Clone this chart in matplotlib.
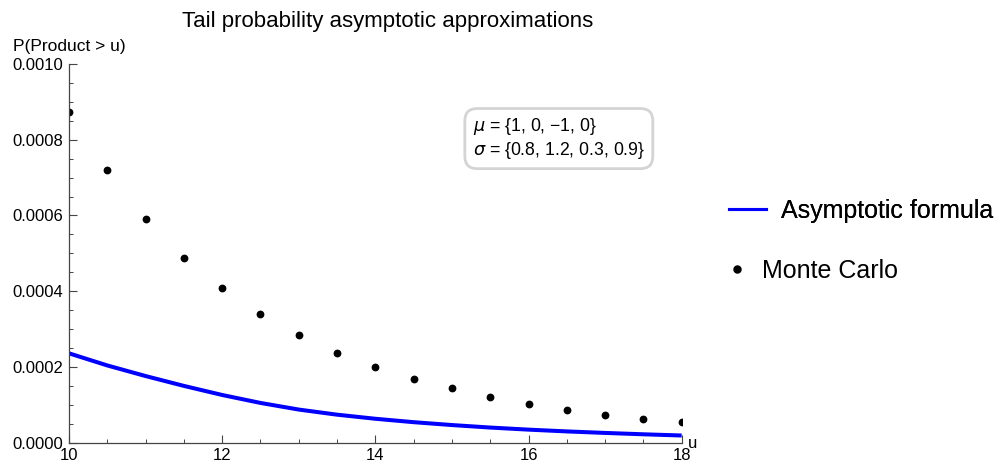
import matplotlib
matplotlib.use("Agg")
import matplotlib.pyplot as plt
from matplotlib.lines import Line2D
from matplotlib.ticker import MultipleLocator, FormatStrFormatter

plt.rcParams['font.family'] = ['Liberation Sans', 'DejaVu Sans']

# Monte Carlo estimates
mc_u = [10, 10.5, 11, 11.5, 12, 12.5, 13, 13.5, 14, 14.5, 15, 15.5, 16, 16.5, 17, 17.5, 18]
mc_p = [0.000872, 0.000719, 0.000591, 0.000487, 0.000408, 0.000340, 0.000285, 0.000238,
        0.000200, 0.000169, 0.000144, 0.000120, 0.000101, 0.0000872, 0.0000740,
        0.0000634, 0.0000555]

# asymptotic formula curve
asy_u = [10, 10.5, 11, 11.5, 12, 12.5, 13, 13.5, 14, 14.5, 15, 15.5, 16, 16.5, 17, 17.5, 18]
asy_p = [0.000236, 0.000204, 0.000176, 0.000150, 0.000126, 0.000105, 0.0000875, 0.0000740,
         0.0000632, 0.0000542, 0.0000466, 0.0000400, 0.0000345, 0.0000298, 0.0000258,
         0.0000222, 0.0000190]

fig = plt.figure(figsize=(9.95, 4.65), dpi=100)
ax = fig.add_axes([69 / 995, 22.3 / 465, 612.7 / 995, 378.7 / 465])

ax.plot(asy_u, asy_p, color='#0000ff', lw=2.9, solid_capstyle='butt')
dots, = ax.plot(mc_u, mc_p, 'o', color='black', ms=4.6, ls='none')

ax.set_xlim(10, 18)
ax.set_ylim(0, 0.001)
ax.xaxis.set_major_locator(MultipleLocator(2))
ax.xaxis.set_minor_locator(MultipleLocator(0.5))
ax.yaxis.set_major_locator(MultipleLocator(0.0002))
ax.yaxis.set_minor_locator(MultipleLocator(0.00005))
ax.yaxis.set_major_formatter(FormatStrFormatter('%.4f'))

for s in ['top', 'right']:
    ax.spines[s].set_visible(False)
for s in ['left', 'bottom']:
    ax.spines[s].set_color('#444444')
    ax.spines[s].set_linewidth(0.9)

ax.tick_params(which='major', direction='in', length=5.5, width=0.8, color='#444444',
               labelsize=12, pad=4)
ax.tick_params(which='minor', direction='in', length=2.9, width=0.7, color='#444444')

fig.text(388 / 995, 1 - 21 / 465, 'Tail probability asymptotic approximations',
         fontsize=16, va='center', ha='center')
fig.text(13 / 995, 1 - 46 / 465, 'P(Product > u)', fontsize=12.5, va='center', ha='left')
fig.text(688 / 995, 1 - 443 / 465, 'u', fontsize=12, va='center', ha='left')

ax.text(0.659, 0.803,
        '$\\mu$ = {1, 0, \u22121, 0}\n$\\sigma$ = {0.8, 1.2, 0.3, 0.9}',
        transform=ax.transAxes, fontsize=12.7, va='center', ha='left', linespacing=1.15,
        bbox=dict(boxstyle='round,pad=0.45,rounding_size=0.7', fc='white',
                  ec='#d4d4d4', lw=2))

# legend swatch is thinner than the plotted curve
line_handle = Line2D([], [], color='#0000ff', lw=2.2)
leg1 = fig.legend([line_handle], ['Asymptotic formula'], loc='center left',
                  bbox_to_anchor=(707 / 995, 1 - 211 / 465), frameon=False,
                  fontsize=18, handlelength=1.45, handletextpad=0.6)
fig.add_artist(leg1)
fig.legend([dots], ['Monte Carlo'], loc='center left',
           bbox_to_anchor=(705 / 995, 1 - 271 / 465), frameon=False,
           fontsize=18, handlelength=0.8, handletextpad=0.6, markerscale=1.1)

fig.savefig('out.png', dpi=100)
